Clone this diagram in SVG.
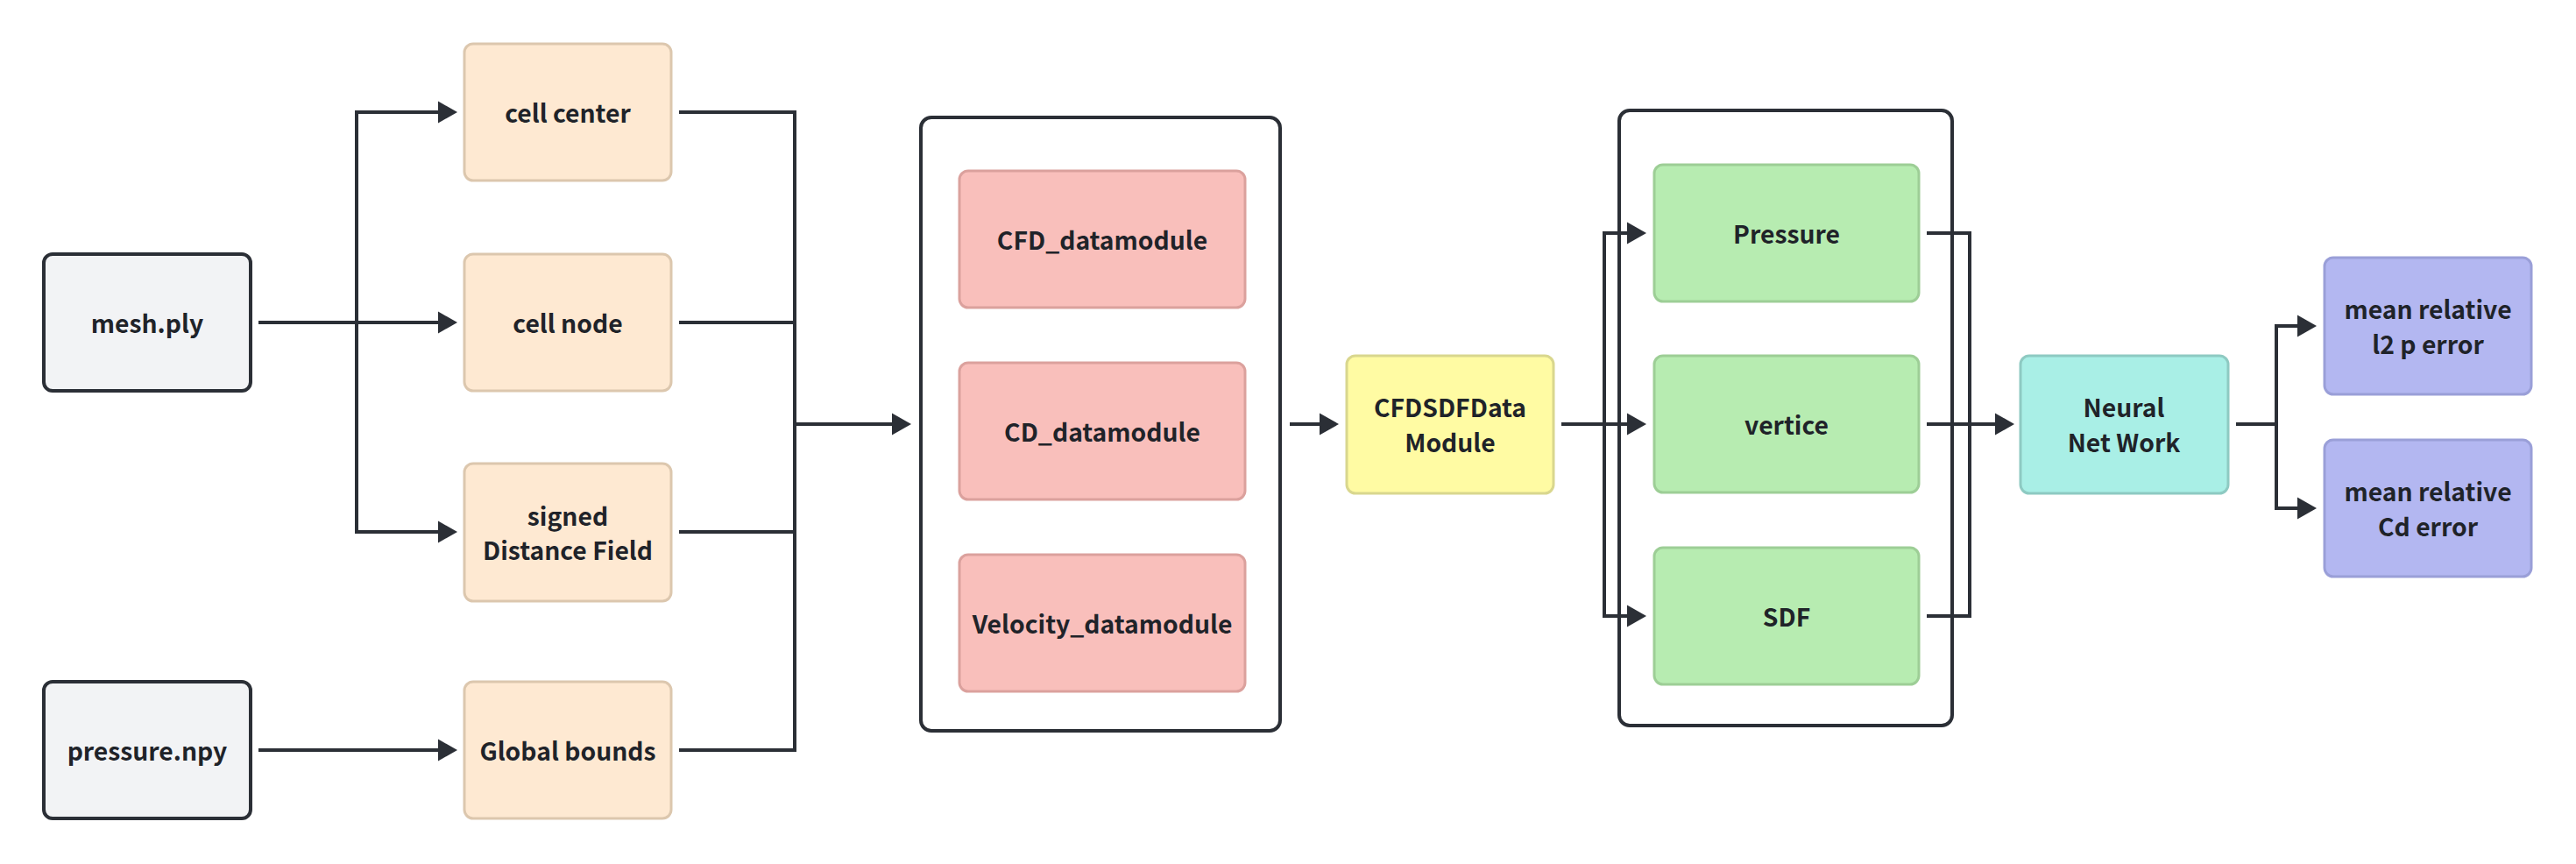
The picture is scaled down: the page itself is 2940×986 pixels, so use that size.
<svg xmlns="http://www.w3.org/2000/svg" width="2940" height="986" viewBox="0 0 2940 986">
<defs>
<style>
text{font-family:"Noto Sans CJK SC","Source Sans Pro","Noto Sans",sans-serif;font-weight:700;font-size:28.3px;fill:#1f2329;text-anchor:middle}
.gray{fill:#f2f3f5;stroke:#2b2f36;stroke-width:4}
.cont{fill:#ffffff;stroke:#2b2f36;stroke-width:4}
.org{fill:#fee9d2;stroke:#dcc7ae;stroke-width:3}
.red{fill:#f9bfbb;stroke:#dba19d;stroke-width:3}
.yel{fill:#fffba3;stroke:#d9d78e;stroke-width:3}
.grn{fill:#b7ecb1;stroke:#9dce96;stroke-width:3}
.teal{fill:#a9efe6;stroke:#8ecac2;stroke-width:3}
.pur{fill:#b3b7f1;stroke:#9a9fd8;stroke-width:3}
.ln{fill:none;stroke:#2b2f36;stroke-width:4}
</style>
<marker id="ah" markerUnits="userSpaceOnUse" markerWidth="24" markerHeight="26" refX="0" refY="13" orient="auto">
<path d="M0,0.5 L22,13 L0,25.5 z" fill="#2b2f36"/>
</marker>
</defs>
<rect width="2940" height="986" fill="#ffffff"/>
<g id="container-datamodules"><rect class="cont" x="1051" y="134" width="410" height="700" rx="12"/></g>
<g id="container-features"><rect class="cont" x="1848" y="126" width="380" height="702" rx="12"/></g>
<g id="connectors">
<path class="ln" d="M295,368 H500" marker-end="url(#ah)"/>
<path class="ln" d="M407,368 V128 H500" marker-end="url(#ah)"/>
<path class="ln" d="M407,368 V607 H500" marker-end="url(#ah)"/>
<path class="ln" d="M295,856 H500" marker-end="url(#ah)"/>
<path class="ln" d="M775,128 H907 V856 H775"/>
<path class="ln" d="M775,368 H907 M775,607 H907"/>
<path class="ln" d="M907,484 H1018" marker-end="url(#ah)"/>
<path class="ln" d="M1472,484 H1506" marker-end="url(#ah)"/>
<path class="ln" d="M1782,484 H1857" marker-end="url(#ah)"/>
<path class="ln" d="M1831,484 V266 H1857" marker-end="url(#ah)"/>
<path class="ln" d="M1831,484 V703 H1857" marker-end="url(#ah)"/>
<path class="ln" d="M2199,266 H2248 V703 H2199"/>
<path class="ln" d="M2199,484 H2277" marker-end="url(#ah)"/>
<path class="ln" d="M2552,484 H2598 V372 H2622" marker-end="url(#ah)"/>
<path class="ln" d="M2598,484 V580 H2622" marker-end="url(#ah)"/>
</g>
<g id="mesh-ply"><rect class="gray" x="50" y="290" width="236" height="156" rx="10"/><text x="168" y="380">mesh.ply</text></g>
<g id="pressure-npy"><rect class="gray" x="50" y="778" width="236" height="156" rx="10"/><text x="168" y="868">pressure.npy</text></g>
<g id="cell-center"><rect class="org" x="530" y="50" width="236" height="156" rx="10"/><text x="648" y="140">cell center</text></g>
<g id="cell-node"><rect class="org" x="530" y="290" width="236" height="156" rx="10"/><text x="648" y="380">cell node</text></g>
<g id="signed-distance-field"><rect class="org" x="530" y="529" width="236" height="157" rx="10"/><text x="648" y="600">signed</text><text x="648" y="639">Distance Field</text></g>
<g id="global-bounds"><rect class="org" x="530" y="778" width="236" height="156" rx="10"/><text x="648" y="868">Global bounds</text></g>
<g id="cfd-datamodule"><rect class="red" x="1095" y="195" width="326" height="156" rx="10"/><text x="1258" y="285">CFD_datamodule</text></g>
<g id="cd-datamodule"><rect class="red" x="1095" y="414" width="326" height="156" rx="10"/><text x="1258" y="504">CD_datamodule</text></g>
<g id="velocity-datamodule"><rect class="red" x="1095" y="633" width="326" height="156" rx="10"/><text x="1258" y="723">Velocity_datamodule</text></g>
<g id="cfdsdf-datamodule"><rect class="yel" x="1537" y="406" width="236" height="157" rx="10"/><text x="1655" y="476">CFDSDFData</text><text x="1655" y="516">Module</text></g>
<g id="pressure"><rect class="grn" x="1888" y="188" width="302" height="156" rx="10"/><text x="2039" y="278">Pressure</text></g>
<g id="vertice"><rect class="grn" x="1888" y="406" width="302" height="156" rx="10"/><text x="2039" y="496">vertice</text></g>
<g id="sdf"><rect class="grn" x="1888" y="625" width="302" height="156" rx="10"/><text x="2039" y="715">SDF</text></g>
<g id="neural-net-work"><rect class="teal" x="2306" y="406" width="237" height="157" rx="10"/><text x="2424" y="476">Neural</text><text x="2424" y="516">Net Work</text></g>
<g id="mean-l2-p-error"><rect class="pur" x="2653" y="294" width="236" height="156" rx="10"/><text x="2771" y="364">mean relative</text><text x="2771" y="404">l2 p error</text></g>
<g id="mean-cd-error"><rect class="pur" x="2653" y="502" width="236" height="156" rx="10"/><text x="2771" y="572">mean relative</text><text x="2771" y="612">Cd error</text></g>
</svg>
